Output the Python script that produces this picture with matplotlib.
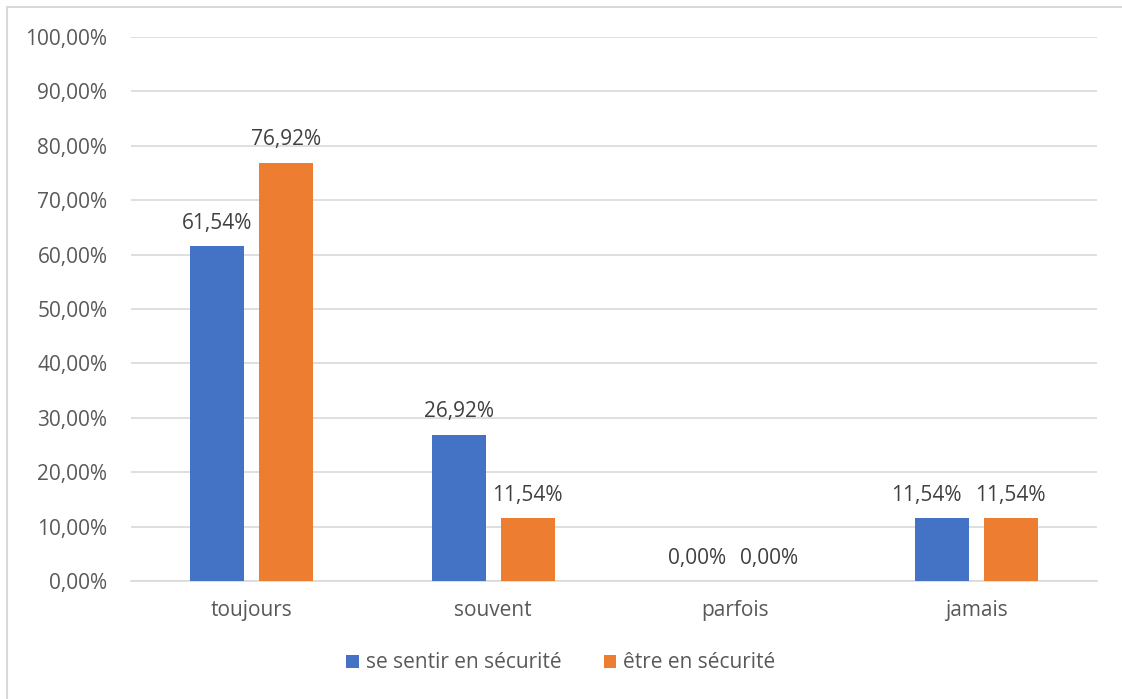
import matplotlib.pyplot as plt
import numpy as np
from matplotlib.patches import Rectangle
from matplotlib.ticker import FuncFormatter

categories = ["toujours", "souvent", "parfois", "jamais"]
series_names = ["se sentir en sécurité", "être en sécurité"]
se_sentir = [61.54, 26.92, 0.00, 11.54]
etre = [76.92, 11.54, 0.00, 11.54]
colors = ["#4472C4", "#ED7D31"]
yticks = np.arange(0, 101, 10)

plt.rcParams['font.family'] = ['Open Sans', 'DejaVu Sans']
text_color = "#595959"
fs = 15

fig = plt.figure(figsize=(11.22, 6.99), dpi=100)
# outer chart frame
fig.patches.append(Rectangle((7 / 1122, -0.01), 1.02, 1 - 7 / 699 + 0.01,
                             transform=fig.transFigure, fill=False,
                             edgecolor="#D9D9D9", linewidth=1.5))

ax = fig.add_axes([131 / 1122, 1 - 581 / 699, (1097 - 131) / 1122, (581 - 37) / 699])

x = np.arange(len(categories))
width = 0.224
offset = 0.143

fmt = lambda v: f"{v:.2f}".replace(".", ",") + "%"

labels = []
for vals, off, col, name in zip([se_sentir, etre], [-offset, offset], colors, series_names):
    bars = ax.bar(x + off, vals, width, color=col, label=name, zorder=3)
    row = []
    for b, v in zip(bars, vals):
        t = ax.annotate(fmt(v), (b.get_x() + b.get_width() / 2, v), xytext=(0, 12.5),
                        textcoords="offset points", ha="center", va="baseline",
                        fontsize=fs, color="#404040")
        row.append(t)
    labels.append(row)

ax.set_xlim(-0.5, len(categories) - 0.5)
ax.set_ylim(0, 100)
ax.set_yticks(yticks)
ax.yaxis.set_major_formatter(FuncFormatter(lambda v, p: fmt(v)))
ax.set_xticks(x)
ax.set_xticklabels(categories)
ax.grid(axis="y", color="#D9D9D9", linewidth=1.2, zorder=0)
for s in ["top", "right", "left"]:
    ax.spines[s].set_visible(False)
ax.spines["bottom"].set_color("#D9D9D9")
ax.spines["bottom"].set_linewidth(1.2)
ax.tick_params(axis="both", length=0, labelsize=fs, labelcolor=text_color)
ax.tick_params(axis="y", pad=17)
ax.tick_params(axis="x", pad=14)

leg = fig.legend(loc="center", bbox_to_anchor=(0.5, 1 - 663 / 699), ncol=2, frameon=False,
                 fontsize=fs, handlelength=0.6, handleheight=0.6, handletextpad=0.35,
                 columnspacing=2.0)
for t in leg.get_texts():
    t.set_color(text_color)

# nudge left-hand value labels sideways when they would collide with their neighbour
fig.canvas.draw()
renderer = fig.canvas.get_renderer()
min_gap = 14
for left, right in zip(labels[0], labels[1]):
    bl = left.get_window_extent(renderer)
    br = right.get_window_extent(renderer)
    if abs(bl.y0 - br.y0) < bl.height and bl.x1 + min_gap > br.x0:
        shift = (bl.x1 + min_gap - br.x0) * 72 / fig.dpi
        ox, oy = left.xyann
        left.xyann = (ox - shift, oy)

fig.savefig("out.png", dpi=100)
